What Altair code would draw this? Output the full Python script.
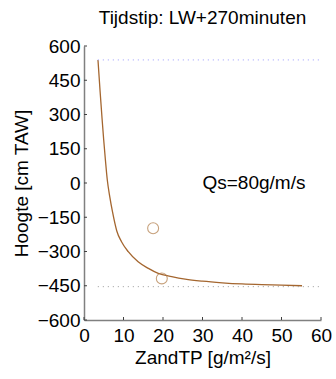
import altair as alt
import pandas as pd

# Curve
curve_x = [3.54, 4.05, 4.56, 4.99, 5.42, 5.9, 6.53, 7.22, 8.3, 9.5, 11.2, 13.7, 16.3, 18.8, 22.2, 25.6, 30.0, 35.0, 40.0, 45.0, 50.0, 55.2]
curve_y = [539, 407, 285, 188, 101, 13, -61, -127, -210, -257, -301, -345, -374, -396, -410, -421, -430, -437, -442, -445, -447, -450]

# Measured points
pts_x = [17.5, 19.7]
pts_y = [-198, -418]

# Reference levels
ref_levels = [539, -454]
ref_names = ["hoog", "laag"]
ref_x0 = 3.5
ref_x1 = 60

xticks = [0, 10, 20, 30, 40, 50, 60]
yticks = [-600, -450, -300, -150, 0, 150, 300, 450, 600]

W, H = 237, 274
font = "Liberation Sans"
FS = 19
XT = "ZandTP [g/m²/s]"
YT = "Hoogte [cm TAW]"

curve_df = pd.DataFrame({"x": curve_x, "y": curve_y})
pts_df = pd.DataFrame({"x": pts_x, "y": pts_y})
ref_df = pd.DataFrame({"y": ref_levels, "name": ref_names, "x0": ref_x0, "x1": ref_x1})
xt_df = pd.DataFrame({"x": xticks})
yt_df = pd.DataFrame({"y": yticks})

xs = alt.Scale(domain=[0, 60], nice=False, zero=False)
ys = alt.Scale(domain=[-600, 600], nice=False, zero=False)

xax = alt.Axis(values=xticks, grid=False, ticks=False, domainColor="#808080", domainWidth=1.5,
               labelPadding=6, titlePadding=3, labelFlush=False, labelOverlap=False)
yax = alt.Axis(values=yticks, grid=False, ticks=False, domainColor="#808080", domainWidth=1.5,
               labelPadding=4, titlePadding=6, labelFlush=False, labelOverlap=False)


def X(f):
    return alt.X(f, scale=xs, axis=xax, title=XT)


def Y(f):
    return alt.Y(f, scale=ys, axis=yax, title=YT)


line = alt.Chart(curve_df).mark_line(color="#a4662f", strokeWidth=1.3, interpolate="monotone").encode(
    x=X("x:Q"), y=Y("y:Q"))

refs = alt.Chart(ref_df).mark_rule(strokeDash=[1, 4], strokeWidth=1).encode(
    x=X("x0:Q"),
    x2="x1:Q",
    y=Y("y:Q"),
    color=alt.Color("name:N", scale=alt.Scale(domain=ref_names, range=["#9999ff", "#999999"]), legend=None),
)

xt = alt.Chart(xt_df).mark_rule(color="#404040", strokeWidth=1).encode(
    x=X("x:Q"), y=alt.value(H), y2=alt.value(H - 3))
yt = alt.Chart(yt_df).mark_rule(color="#404040", strokeWidth=1).encode(
    y=Y("y:Q"), x=alt.value(0), x2=alt.value(3))

points = alt.Chart(pts_df).mark_point(shape="circle", size=120, color="#b07a45", strokeWidth=1.1, filled=False).encode(
    x=X("x:Q"), y=Y("y:Q"))

label = alt.Chart(pd.DataFrame({"x": [30], "y": [0], "t": ["Qs=80g/m/s"]})).mark_text(
    align="left", baseline="middle", font=font, fontSize=FS, color="black").encode(
    x=X("x:Q"), y=Y("y:Q"), text="t:N")

chart = alt.layer(line, refs, xt, yt, points, label).properties(
    width=W, height=H,
    title=alt.TitleParams("Tijdstip: LW+270minuten", anchor="middle", offset=9),
    autosize=alt.AutoSizeParams(type="none"),
    padding={"left": 84, "top": 46, "right": 15, "bottom": 59},
).configure_view(stroke=None).configure_axis(
    labelFont=font, labelFontSize=FS, labelColor="black",
    titleFont=font, titleFontSize=FS, titleFontWeight="normal", titleColor="black",
).configure_title(font=font, fontSize=FS, fontWeight="normal", color="black")

chart.save("out.html", embed_options={"renderer": "svg", "actions": False})
